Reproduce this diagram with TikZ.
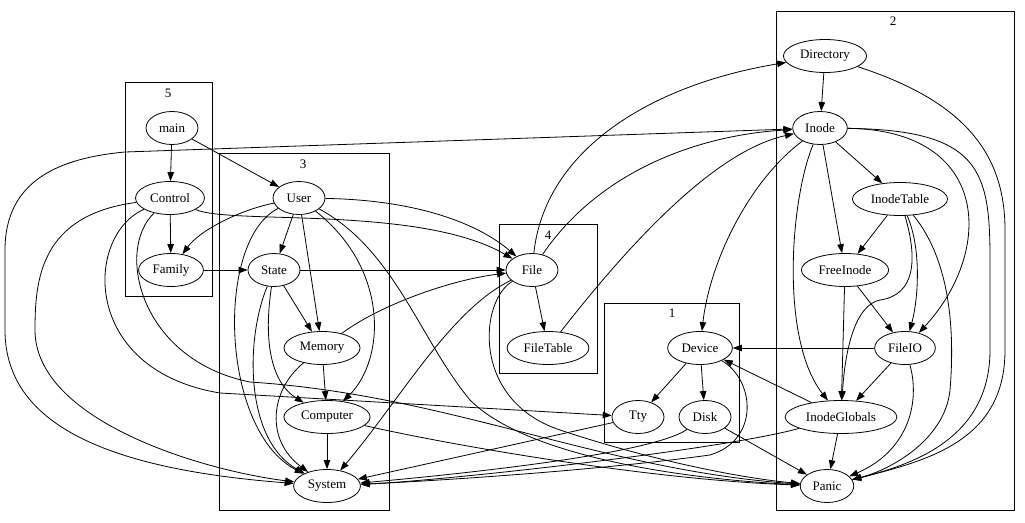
\documentclass[tikz,border=0pt]{standalone}
\usepackage{fontspec}
\setmainfont{Liberation Serif}
\usetikzlibrary{arrows.meta, shapes.geometric}

\begin{document}
\begin{tikzpicture}[
                x=1pt, y=-1pt,
                mod/.style={ellipse, draw, line width=0.8pt, minimum width=52pt, minimum height=33pt, inner xsep=4.5pt, inner ysep=1pt, font=\fontsize{13}{15}\selectfont},
                grp/.style={draw, line width=0.8pt},
                grplab/.style={inner sep=0pt, font=\fontsize{13}{15}\selectfont},
                arr/.style={-{Triangle[length=9pt,width=6.5pt]}, line width=0.8pt},
                arrboth/.style={{Triangle[length=9pt,width=6.5pt]}-{Triangle[length=9pt,width=6.5pt]}, line width=0.8pt}
            ]
            \useasboundingbox (0,0) rectangle (1025,522);
            % clusters
            \draw[grp] (125,82) rectangle (212,296);
            \draw[grp] (219,153) rectangle (389,510);
            \draw[grp] (499,224) rectangle (597,373);
            \draw[grp] (604,303) rectangle (739,442);
            \draw[grp] (776,11) rectangle (1014,510);
            \node[grplab] (lab5) at (168,93) {5};
            \node[grplab] (lab3) at (303,164) {3};
            \node[grplab] (lab4) at (548,235) {4};
            \node[grplab] (lab1) at (672,313) {1};
            \node[grplab] (lab2) at (893,21) {2};
            % modules
            \node[mod] (main)         at (172,128) {main};
            \node[mod] (Control)      at (170,198) {Control};
            \node[mod] (Family)       at (171,270) {Family};
            \node[mod] (User)         at (299,198) {User};
            \node[mod] (State)        at (274,270) {State};
            \node[mod] (Memory)       at (322,348) {Memory};
            \node[mod] (Computer)     at (327,417) {Computer};
            \node[mod] (System)       at (327,486) {System};
            \node[mod] (File)         at (532,270) {File};
            \node[mod] (FileTable)    at (548,348) {FileTable};
            \node[mod] (Device)       at (700,348) {Device};
            \node[mod] (Tty)          at (638,417) {Tty};
            \node[mod] (Disk)         at (705,417) {Disk};
            \node[mod] (Directory)    at (825,56)  {Directory};
            \node[mod] (Inode)        at (820,128) {Inode};
            \node[mod] (InodeTable)   at (900,199) {InodeTable};
            \node[mod] (FreeInode)    at (845,270) {FreeInode};
            \node[mod] (FileIO)       at (905,348) {FileIO};
            \node[mod] (InodeGlobals) at (841,417) {InodeGlobals};
            \node[mod] (Panic)        at (827,486) {Panic};
            % left part
            \draw[arr] (main) -- (Control);
            \draw[arr] (main) -- (User);
            \draw[arr] (Control) -- (Family);
            \draw[arr] (Family) -- (State);
            \draw[arr] (User) .. controls (240,210) and (200,230) .. (Family);
            \draw[arr] (User) -- (State);
            \draw[arr] (User) -- (Memory);
            \draw[arr] (State) -- (Memory);
            \draw[arr] (State) -- (File);
            \draw[arr] (Memory) -- (Computer);
            \draw[arr] (Computer) -- (System);
            \draw[arr] (State) .. controls (262,350) and (275,385) .. (Computer);
            \draw[arr] (User) .. controls (390,270) and (385,360) .. (Computer);
            \draw[arr] (User) .. controls (215,240) and (220,430) .. (System);
            \draw[arr] (State) .. controls (245,340) and (245,440) .. (System);
            \draw[arr] (Memory) .. controls (270,390) and (265,440) .. (System);
            \draw[arr] (Memory) .. controls (380,305) and (450,280) .. (File);
            \draw[arr] (Control) .. controls (230,225) and (420,205) .. (File);
            \draw[arr] (User) .. controls (420,200) and (480,225) .. (File);
            \draw[arr] (Control) .. controls (40,215) and (35,280) .. (35,330) .. controls (35,420) and (200,470) .. (System);
            \draw[arr] (Control) .. controls (85,235) and (80,370) .. (220,393) -- (Tty);
            \draw[arr] (Control) .. controls (115,250) and (140,360) .. (250,382) .. controls (450,395) and (600,470) .. (Panic);
            \draw[arr] (User) .. controls (395,250) and (420,340) .. (470,400) .. controls (530,460) and (700,480) .. (Panic);
            \draw[arr] (Computer) .. controls (450,445) and (650,480) .. (Panic);
            \draw[arrboth] (System) .. controls (120,470) and (5,430) .. (5,330) -- (5,250) .. controls (5,180) and (60,158) .. (125,152) -- (Inode);
            % middle part
            \draw[arr] (File) -- (FileTable);
            \draw[arr] (File) .. controls (450,310) and (400,400) .. (System);
            \draw[arr] (File) .. controls (480,300) and (470,400) .. (560,430) .. controls (650,460) and (740,478) .. (Panic);
            \draw[arr] (File) .. controls (545,150) and (650,85) .. (Directory);
            \draw[arr] (File) .. controls (600,170) and (700,135) .. (Inode);
            \draw[arr] (FileTable) .. controls (640,230) and (720,150) .. (Inode);
            \draw[arr] (Device) -- (Tty);
            \draw[arr] (Device) -- (Disk);
            \draw[arr] (Tty) -- (System);
            \draw[arr] (Disk) .. controls (650,455) and (450,475) .. (System);
            \draw[arr] (Disk) -- (Panic);
            \draw[arr] (Device) .. controls (755,380) and (760,440) .. (710,455) .. controls (600,470) and (450,480) .. (System);
            % right part
            \draw[arr] (Directory) -- (Inode);
            \draw[arr] (Directory) .. controls (960,100) and (1005,150) .. (1005,230) -- (1005,350) .. controls (1005,440) and (930,460) .. (Panic);
            \draw[arr] (Inode) -- (InodeTable);
            \draw[arr] (Inode) -- (FreeInode);
            \draw[arr] (Inode) .. controls (750,180) and (710,260) .. (Device);
            \draw[arr] (Inode) .. controls (790,200) and (780,340) .. (InodeGlobals);
            \draw[arr] (Inode) .. controls (990,130) and (995,250) .. (FileIO);
            \draw[arr] (Inode) .. controls (980,130) and (990,170) .. (990,260) -- (990,350) .. controls (990,440) and (910,465) .. (Panic);
            \draw[arr] (InodeTable) -- (FreeInode);
            \draw[arr] (InodeTable) .. controls (922,250) and (918,300) .. (FileIO);
            \draw[arr] (InodeTable) .. controls (918,260) and (915,295) .. (880,300) .. controls (855,305) and (845,350) .. (InodeGlobals);
            \draw[arr] (InodeTable) .. controls (950,260) and (955,330) .. (950,390) .. controls (945,440) and (890,470) .. (Panic);
            \draw[arr] (FreeInode) -- (FileIO);
            \draw[arr] (FreeInode) -- (InodeGlobals);
            \draw[arr] (FileIO) -- (InodeGlobals);
            \draw[arr] (FileIO) -- (Device);
            \draw[arr] (FileIO) .. controls (920,400) and (910,450) .. (Panic);
            \draw[arr] (InodeGlobals) -- (Device);
            \draw[arr] (InodeGlobals) -- (Panic);
            \draw[arr] (InodeGlobals) .. controls (720,450) and (450,480) .. (System);
        \end{tikzpicture}
\end{document}
